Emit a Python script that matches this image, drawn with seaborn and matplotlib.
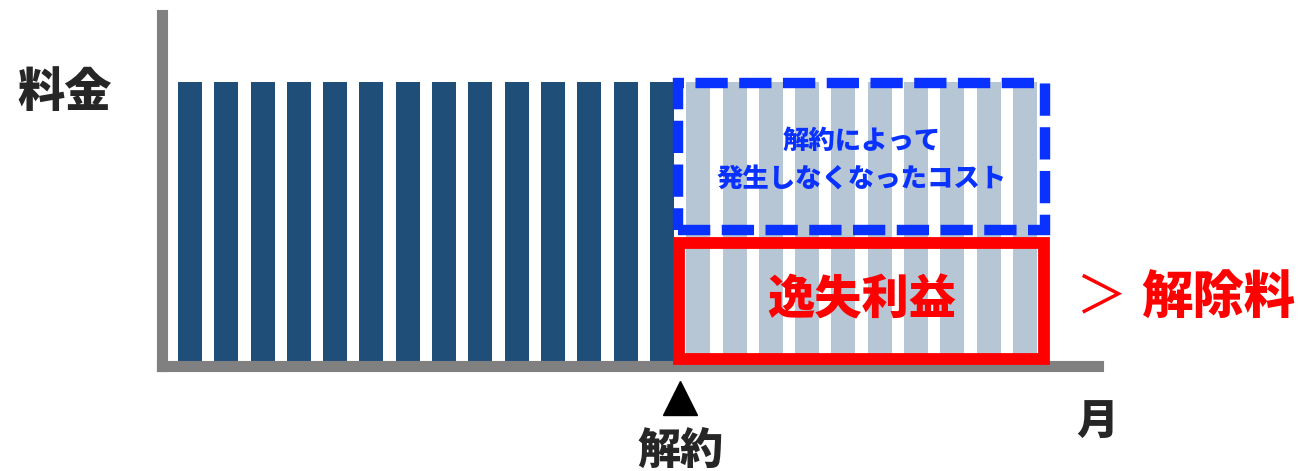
import matplotlib
matplotlib.use('Agg')
import matplotlib.pyplot as plt
import matplotlib.patches as mpatches
import seaborn as sns
import pandas as pd

# データ：24か月分の料金（14か月目まで支払い、以降は解約で発生しない分）
months = list(range(1, 25))
fees = [100] * 24
phase = ['支払済'] * 14 + ['解約後'] * 10
cancel_month = 14

sns.set_style('white')
plt.rcParams['font.family'] = ['Noto Sans CJK JP', 'DejaVu Sans']

dark = '#1F4E79'
light = '#B7C6D5'
gray = '#808080'
red = '#FF0000'
blue = '#0A32FF'
ink = '#262626'
w = 'black'  # 太字

df = pd.DataFrame({'月': months, '料金': fees, '状態': phase})

fig = plt.figure(figsize=(13.02, 4.71), dpi=100)
ax = fig.add_axes([0.1244, 0.2229, 0.7189, 0.7452])

sns.barplot(data=df, x='月', y='料金', hue='状態', hue_order=['支払済', '解約後'],
            palette=[dark, light], dodge=False, width=0.66, saturation=1,
            linewidth=0, legend=False, ax=ax)

ax.set_xlim(-0.77, 25.01)
ax.set_ylim(0, 123.6)
ax.set_xticks([])
ax.set_yticks([])
ax.set_xlabel('')
ax.set_ylabel('')
for side in ['top', 'right']:
    ax.spines[side].set_visible(False)
for side in ['left', 'bottom']:
    ax.spines[side].set_color(gray)
    ax.spines[side].set_linewidth(8)
    ax.spines[side].set_capstyle('projecting')

# 解約の位置（支払済と解約後の境目）
edge = cancel_month - 0.5
last = len(months) - 1

# 解約によって発生しなくなったコスト（青の破線枠）
ax.add_patch(mpatches.Rectangle((edge - 0.05, 47.9), last + 0.55 - edge + 0.05, 99.6 - 47.9,
                                fill=False, edgecolor=blue, linewidth=7.5,
                                linestyle=(0, (3.1, 1.1)), zorder=5, clip_on=False))
# 逸失利益（赤枠）
ax.add_patch(mpatches.Rectangle((edge - 0.03, 2.5), last + 0.53 - edge + 0.03, 43.3 - 2.5,
                                fill=False, edgecolor=red, linewidth=8.5,
                                joinstyle='miter', zorder=6, clip_on=False))

mid = (edge + last + 0.5) / 2
ax.text(mid, 72.5, '解約によって\n発生しなくなったコスト', ha='center', va='center',
        fontsize=19, fontweight=w, color=blue, linespacing=1.45, zorder=7)
ax.text(mid, 23.2, '逸失利益', ha='center', va='center',
        fontsize=34, fontweight=w, color=red, zorder=7)

# 解約の目印
ax.plot([edge], [-11.3], marker='^', markersize=25, color='black',
        clip_on=False, linestyle='none')
ax.text(edge, -30.0, '解約', ha='center', va='center', fontsize=31,
        fontweight=w, color=ink, clip_on=False)

fig.text(0.05, 0.8025, '料金', ha='center', va='center', fontsize=34,
         fontweight=w, color=ink)
fig.text(0.8425, 0.102, '月', ha='center', va='center', fontsize=30,
         fontweight=w, color=ink)
fig.text(0.8455, 0.369, '＞', ha='center', va='center', fontsize=37, color=red)
fig.text(0.936, 0.365, '解除料', ha='center', va='center', fontsize=37,
         fontweight=w, color=red)

fig.savefig('out.png', dpi=100)
